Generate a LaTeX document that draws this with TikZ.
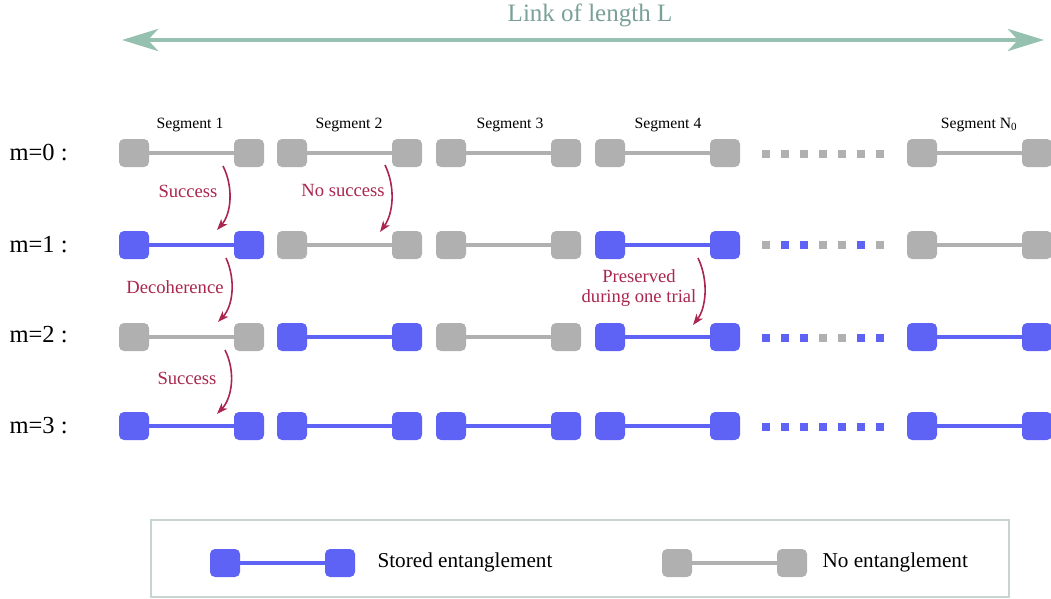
\documentclass[tikz,border=0pt]{standalone}
\usepackage{fontspec}
\setmainfont{Liberation Serif}
\usetikzlibrary{arrows.meta}
\definecolor{qblue}{RGB}{94,99,246}
\definecolor{qgray}{RGB}{176,176,176}
\definecolor{qred}{RGB}{170,38,78}
\definecolor{qteal}{RGB}{150,192,176}
\definecolor{qtealtext}{RGB}{122,160,152}
\definecolor{qframe}{RGB}{200,212,210}
\tikzset{
  mem/.style={rounded corners=5pt, minimum width=30pt, minimum height=28pt, inner sep=0pt, draw=none},
  bmem/.style={mem, fill=qblue},
  gmem/.style={mem, fill=qgray},
  blink/.style={qblue, line width=4pt},
  glink/.style={qgray, line width=4pt},
  dotsq/.style={minimum size=8pt, inner sep=0pt, draw=none},
  rowlabel/.style={anchor=west, font=\fontsize{24.5}{27}\selectfont},
  seglabel/.style={font=\fontsize{15.7}{18}\selectfont},
  event/.style={qred, line width=1.6pt, -{Stealth[length=11pt,width=8pt,inset=3pt]}},
  eventlabel/.style={text=qred, font=\fontsize{18.6}{20.5}\selectfont, align=center},
  linkarrow/.style={qteal, line width=4.7pt, {Stealth[length=36pt,width=22pt,inset=10pt]}-{Stealth[length=36pt,width=22pt,inset=10pt]}},
  legendtext/.style={anchor=west, font=\fontsize{21.2}{24}\selectfont},
}
\newcommand\qseg[4]{%
  \node[#4mem] (#1a) at ({#2+15},#3) {};
  \node[#4mem] (#1b) at ({#2+130},#3) {};
  \draw[#4link] (#1a.east) -- (#1b.west);
}
\newcommand\qdots[3]{%
  \foreach \c [count=\i] in {#3} {\node[dotsq, fill=\c] (#1\i) at ({766+19*(\i-1)},#2) {};}
}
\begin{document}
\begin{tikzpicture}[x=1pt,y=-1pt]
\useasboundingbox (0,0) rectangle (1051,599);

% link arrow
\node[text=qtealtext, font=\fontsize{25}{28}\selectfont] (title) at (590,15) {Link of length L};
\coordinate (Lend) at (122,40);
\coordinate (Rend) at (1044,40);
\draw[linkarrow] (Lend) -- (Rend);

% segment labels
\node[seglabel] (sl1) at (190,125) {Segment 1};
\node[seglabel] (sl2) at (349,125) {Segment 2};
\node[seglabel] (sl3) at (510,125) {Segment 3};
\node[seglabel] (sl4) at (668,125) {Segment 4};
\node[seglabel] (slN) at (979,125) {Segment N\textsubscript{0}};

% row labels
\node[rowlabel] (m0) at (6,153) {m=0 :};
\node[rowlabel] (m1) at (6,245) {m=1 :};
\node[rowlabel] (m2) at (6,335) {m=2 :};
\node[rowlabel] (m3) at (6,426) {m=3 :};

% row m=0
\qseg{r0s1}{119}{153}{g}
\qseg{r0s2}{277}{153}{g}
\qseg{r0s3}{436}{153}{g}
\qseg{r0s4}{595}{153}{g}
\qseg{r0sN}{907}{153}{g}
\qdots{r0d}{154}{qgray,qgray,qgray,qgray,qgray,qgray,qgray}

% row m=1
\qseg{r1s1}{119}{245}{b}
\qseg{r1s2}{277}{245}{g}
\qseg{r1s3}{436}{245}{g}
\qseg{r1s4}{595}{245}{b}
\qseg{r1sN}{907}{245}{g}
\qdots{r1d}{245}{qgray,qblue,qblue,qgray,qgray,qblue,qgray}

% row m=2
\qseg{r2s1}{119}{337}{g}
\qseg{r2s2}{277}{337}{b}
\qseg{r2s3}{436}{337}{g}
\qseg{r2s4}{595}{337}{b}
\qseg{r2sN}{907}{337}{b}
\qdots{r2d}{338}{qblue,qblue,qblue,qgray,qgray,qblue,qblue}

% row m=3
\qseg{r3s1}{119}{426}{b}
\qseg{r3s2}{277}{426}{b}
\qseg{r3s3}{436}{426}{b}
\qseg{r3s4}{595}{426}{b}
\qseg{r3sN}{907}{426}{b}
\qdots{r3d}{427}{qblue,qblue,qblue,qblue,qblue,qblue,qblue}

% events
\coordinate (e1s) at (223,166); \coordinate (e1e) at (217,230);
\draw[event] (e1s) .. controls (234,188) and (231,214) .. (e1e);
\node[eventlabel] (e1t) at (188,191) {Success};

\coordinate (e2s) at (385,165); \coordinate (e2e) at (380,232);
\draw[event] (e2s) .. controls (396,188) and (393,214) .. (e2e);
\node[eventlabel] (e2t) at (343,191) {No success};

\coordinate (e3s) at (226,258); \coordinate (e3e) at (218,322);
\draw[event] (e3s) .. controls (236,280) and (233,306) .. (e3e);
\node[eventlabel] (e3t) at (175,287) {Decoherence};

\coordinate (e4s) at (698,258); \coordinate (e4e) at (693,325);
\draw[event] (e4s) .. controls (709,281) and (706,308) .. (e4e);
\node[eventlabel] (e4t) at (639,288) {Preserved\\during one trial};

\coordinate (e5s) at (225,350); \coordinate (e5e) at (217,414);
\draw[event] (e5s) .. controls (236,372) and (232,398) .. (e5e);
\node[eventlabel] (e5t) at (187,378) {Success};

% legend
\node[draw=qframe, line width=1.5pt, minimum width=858pt, minimum height=77pt, inner sep=0pt, anchor=north west] (legend) at (150,519) {};
\node[bmem] (lb1) at (225,563) {};
\node[bmem] (lb2) at (340,563) {};
\draw[blink] (lb1.east) -- (lb2.west);
\node[legendtext] (lbt) at (374,562) {Stored entanglement};
\node[gmem] (lg1) at (677,563) {};
\node[gmem] (lg2) at (792,563) {};
\draw[glink] (lg1.east) -- (lg2.west);
\node[legendtext] (lgt) at (819,562) {No entanglement};
\end{tikzpicture}
\end{document}
